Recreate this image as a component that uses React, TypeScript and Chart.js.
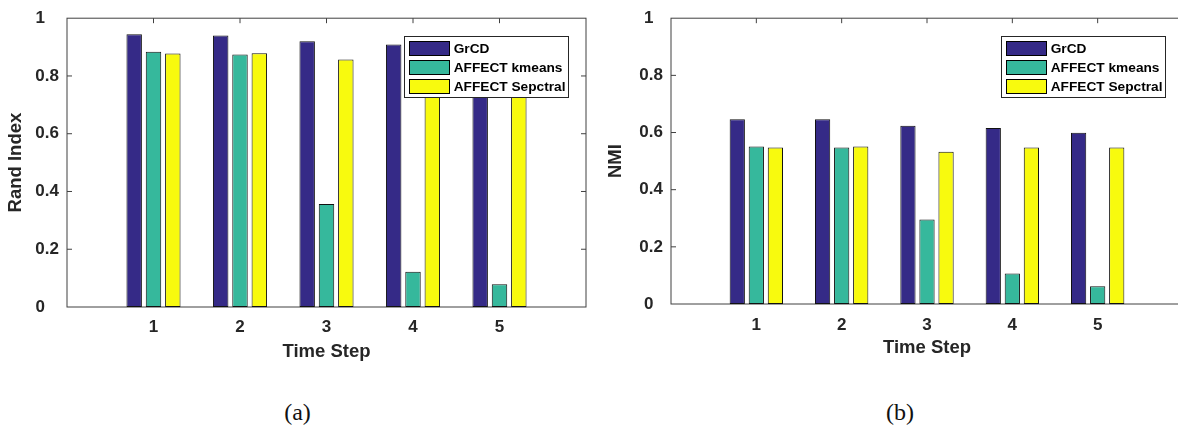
import React, { useEffect, useRef } from 'react';
import { Chart, registerables } from 'chart.js';

Chart.register(...registerables);

// ---- data ----
const timeSteps = [1, 2, 3, 4, 5];
const seriesNames = ['GrCD', 'AFFECT kmeans', 'AFFECT Sepctral'];
const seriesColors = ['#352A87', '#36B89C', '#F8FA0E'];
const yTicks = [0, 0.2, 0.4, 0.6, 0.8, 1];

const randGrCD = [0.944, 0.94, 0.92, 0.909, 0.9];
const randKmeans = [0.884, 0.874, 0.357, 0.122, 0.079];
const randSpectral = [0.878, 0.879, 0.857, 0.862, 0.866];

const nmiGrCD = [0.646, 0.646, 0.624, 0.616, 0.599];
const nmiKmeans = [0.551, 0.548, 0.296, 0.107, 0.062];
const nmiSpectral = [0.548, 0.551, 0.533, 0.548, 0.548];

const FONT = '"Liberation Sans", Arial, Helvetica, sans-serif';
const TEXT = '#262626';

const framePlugin = {
  id: 'matlabFrame',
  beforeDatasetsDraw(chart: any) {
    const { ctx, chartArea } = chart;
    const { left, right, top, bottom } = chartArea;
    const xs = chart.scales.x;
    const ys = chart.scales.y;
    ctx.save();
    ctx.strokeStyle = '#404040';
    ctx.lineWidth = 1;
    ctx.strokeRect(left, top, right - left, bottom - top);
    ctx.beginPath();
    yTicks.forEach((v) => {
      if (v <= 0 || v >= 1) return;
      const py = ys.getPixelForValue(v);
      ctx.moveTo(left, py);
      ctx.lineTo(left + 5, py);
      ctx.moveTo(right, py);
      ctx.lineTo(right - 5, py);
    });
    timeSteps.forEach((t) => {
      const px = xs.getPixelForValue(t);
      ctx.moveTo(px, top);
      ctx.lineTo(px, top + 5);
      ctx.moveTo(px, bottom);
      ctx.lineTo(px, bottom - 5);
    });
    ctx.stroke();
    ctx.restore();
  },
};

const legendPlugin = {
  id: 'boxLegend',
  afterDraw(chart: any) {
    const { ctx, chartArea } = chart;
    const fs = 13.7;
    ctx.save();
    ctx.font = `bold ${fs}px ${FONT}`;
    const labels = chart.data.datasets.map((d: any) => d.label);
    const textW = Math.max(...labels.map((l: string) => ctx.measureText(l).width));
    const padL = 5, swW = 40, gap = 4.5, padR = 2.5, swH = 14, rowH = 19;
    const boxW = padL + swW + gap + textW + padR;
    const boxH = 61;
    const boxRight = chartArea.right - 18;
    const boxTop = chartArea.top + 18;
    const boxLeft = boxRight - boxW;
    ctx.fillStyle = '#ffffff';
    ctx.fillRect(boxLeft, boxTop, boxW, boxH);
    ctx.strokeStyle = '#262626';
    ctx.lineWidth = 1;
    ctx.strokeRect(Math.round(boxLeft) + 0.5, Math.round(boxTop) + 0.5, Math.round(boxW), boxH);
    chart.data.datasets.forEach((ds: any, i: number) => {
      const cy = boxTop + 12 + i * rowH;
      const sx = Math.round(boxLeft + padL);
      const sy = Math.round(cy - swH / 2);
      ctx.fillStyle = ds.backgroundColor;
      ctx.fillRect(sx, sy, swW, swH);
      ctx.strokeStyle = '#000';
      ctx.strokeRect(sx + 0.5, sy + 0.5, swW, swH);
      ctx.fillStyle = '#000';
      ctx.textAlign = 'left';
      ctx.textBaseline = 'middle';
      ctx.fillText(ds.label, boxLeft + padL + swW + gap, cy + 1);
    });
    ctx.restore();
  },
};

type PanelProps = {
  left: number;
  width: number;
  height: number;
  area: { left: number; right: number; top: number; bottom: number };
  yTitle: string;
  yTitlePad: number;
  xTickPad: number;
  xTitlePad: number;
  edgeSpaces: string;
  values: number[][];
};

function BarPanel(p: PanelProps) {
  const ref = useRef<HTMLCanvasElement | null>(null);
  useEffect(() => {
    if (!ref.current) return;
    const tickFont = { family: FONT, size: 17, weight: 'bold' as const };
    const titleFont = { family: FONT, size: 18.5, weight: 'bold' as const };
    const chart = new Chart(ref.current, {
      type: 'bar',
      data: {
        datasets: seriesNames.map((name, k) => ({
          label: name,
          data: timeSteps.map((t, i) => ({ x: t, y: p.values[k][i] })),
          backgroundColor: seriesColors[k],
          borderColor: '#111',
          borderWidth: 1,
          borderSkipped: false,
          categoryPercentage: 0.67,
          barPercentage: 0.8,
        })),
      },
      options: {
        animation: false,
        responsive: false,
        events: [],
        layout: {
          padding: { top: p.area.top, right: p.width - p.area.right, left: 0, bottom: 0 },
        },
        plugins: {
          legend: { display: false },
          tooltip: { enabled: false },
        },
        scales: {
          x: {
            type: 'linear',
            min: 0,
            max: 6,
            offset: false,
            grid: { display: false, drawTicks: false, offset: false },
            border: { display: false },
            ticks: {
              stepSize: 1,
              padding: p.xTickPad,
              color: TEXT,
              font: tickFont,
              autoSkip: false,
              maxRotation: 0,
              callback: (v: any) => (timeSteps.includes(Number(v)) ? String(v) : ''),
            },
            title: {
              display: true,
              text: 'Time Step',
              color: TEXT,
              font: titleFont,
              padding: { top: 0, bottom: p.xTitlePad },
            },
            afterFit: (s: any) => {
              s.height = p.height - p.area.bottom;
            },
          },
          y: {
            min: 0,
            max: 1,
            grid: { display: false, drawTicks: false },
            border: { display: false },
            ticks: {
              stepSize: 0.2,
              padding: 8,
              color: TEXT,
              font: tickFont,
              callback: (v: any) => {
                const n = Math.round(Number(v) * 10) / 10;
                const s = String(n);
                return n === 0 || n === 1 ? s + p.edgeSpaces : s;
              },
            },
            title: {
              display: true,
              text: p.yTitle,
              color: TEXT,
              font: titleFont,
              padding: { top: p.yTitlePad, bottom: 0 },
            },
            afterFit: (s: any) => {
              s.width = p.area.left;
            },
          },
        },
      } as any,
      plugins: [framePlugin, legendPlugin],
    });
    return () => chart.destroy();
  }, []);
  return (
    <canvas
      ref={ref}
      width={p.width}
      height={p.height}
      style={{ position: 'absolute', left: p.left, top: 0, width: p.width, height: p.height }}
    />
  );
}

const captionStyle = (cx: number, cy: number): React.CSSProperties => ({
  position: 'absolute',
  left: cx - 50,
  width: 100,
  top: cy - 16.6,
  textAlign: 'center',
  fontFamily: '"Liberation Serif", "Times New Roman", serif',
  fontSize: 24,
  lineHeight: '28px',
  color: '#111',
});

export default function App() {
  return (
    <div
      style={{
        position: 'fixed',
        left: 0,
        top: 0,
        width: 1178,
        height: 428,
        overflow: 'hidden',
        background: '#ffffff',
      }}
    >
      <BarPanel
        left={0}
        width={600}
        height={380}
        area={{ left: 67, right: 586, top: 17, bottom: 307 }}
        yTitle="Rand Index"
        yTitlePad={5.2}
        xTickPad={10}
        xTitlePad={16.6}
        edgeSpaces="   "
        values={[randGrCD, randKmeans, randSpectral]}
      />
      <BarPanel
        left={590}
        width={610}
        height={380}
        area={{ left: 81, right: 593, top: 17, bottom: 304 }}
        yTitle="NMI"
        yTitlePad={14.9}
        xTickPad={11}
        xTitlePad={20.6}
        edgeSpaces="  "
        values={[nmiGrCD, nmiKmeans, nmiSpectral]}
      />
      <div style={captionStyle(297.5, 415)}>(a)</div>
      <div style={captionStyle(900, 415)}>(b)</div>
    </div>
  );
}
